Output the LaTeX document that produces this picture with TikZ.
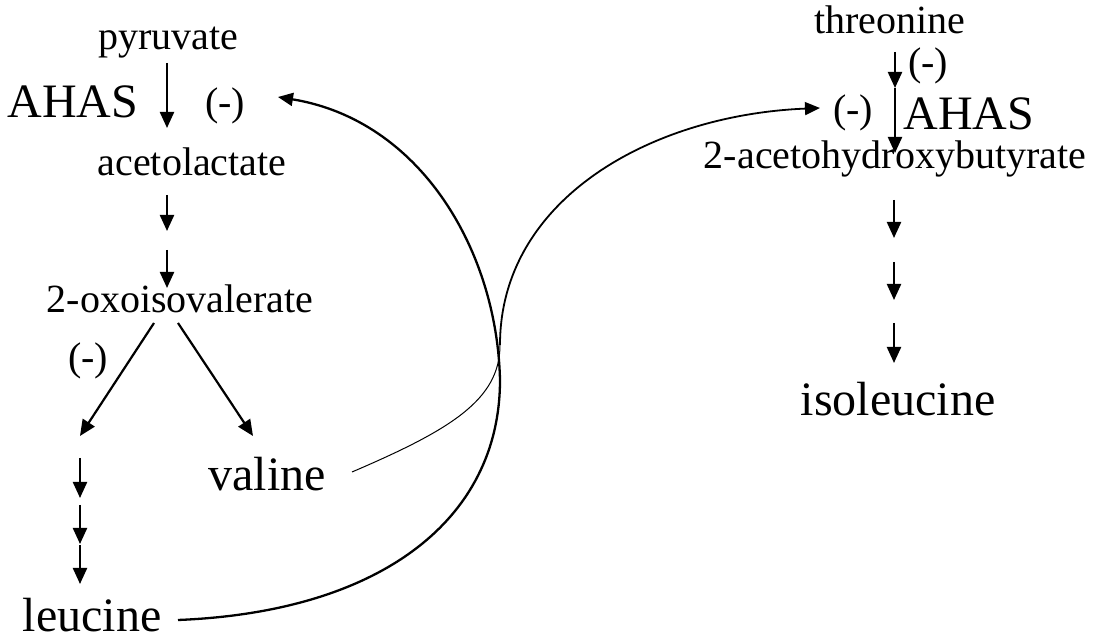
\documentclass[tikz,border=0pt]{standalone}
\usepackage{fontspec}
\setmainfont{Liberation Serif}
\usetikzlibrary{arrows.meta}
\begin{document}
\begin{tikzpicture}[x=0.5pt,y=-0.5pt,
  smalltxt/.style={anchor=base,inner sep=0pt,font=\fontsize{20}{24}\selectfont},
  bigtxt/.style={anchor=base,inner sep=0pt,font=\fontsize{24}{28}\selectfont},
  steparrow/.style={line width=1.1pt,-{Triangle[length=8pt,width=7pt]}},
  feedback/.style={-{Triangle[length=7.5pt,width=6.5pt]}}
]
\useasboundingbox (0,0) rectangle (1100,640);
\fill[white] (0,0) rectangle (1100,640);

% ---- left pathway texts
\node[smalltxt] (pyr) at (168,50) {pyruvate};
\node[bigtxt] (ahasL) at (73,118) {AHAS};
\node[smalltxt] (inhA) at (225,116) {(-)};
\node[smalltxt] (acl) at (192,176) {acetolactate};
\node[smalltxt] (oxo) at (180,313) {2-oxoisovalerate};
\node[smalltxt] (inhB) at (88,371) {(-)};
\node[bigtxt] (val) at (267,491) {valine};
\node[bigtxt] (leu) at (92,632) {leucine};

% ---- right pathway texts
\node[smalltxt] (thr) at (890,34) {threonine};
\node[smalltxt] (inhC) at (928,76) {(-)};
\node[smalltxt] (inhD) at (853,123) {(-)};
\node[bigtxt] (ahasR) at (969,130) {AHAS};
\node[smalltxt] (ahb) at (895,169) {2-acetohydroxybutyrate};
\node[bigtxt] (ile) at (898,416) {isoleucine};

% ---- step arrow end points
\coordinate (a1s) at (167,63);  \coordinate (a1e) at (167,128);
\coordinate (a2s) at (167,195); \coordinate (a2e) at (167,231);
\coordinate (a3s) at (167,250); \coordinate (a3e) at (167,288);
\coordinate (d1s) at (154,323); \coordinate (d1e) at (80,436);
\coordinate (d2s) at (178,323); \coordinate (d2e) at (253,436);
\coordinate (l1s) at (80,458);  \coordinate (l1e) at (80,498);
\coordinate (l2s) at (80,505);  \coordinate (l2e) at (80,544);
\coordinate (l3s) at (80,545);  \coordinate (l3e) at (80,584);
\coordinate (t1s) at (895,52);  \coordinate (t1e) at (895,88);
\coordinate (t2e) at (895,153);
\coordinate (i1s) at (894,200); \coordinate (i1e) at (894,238);
\coordinate (i2s) at (894,262); \coordinate (i2e) at (894,300);
\coordinate (i3s) at (894,323); \coordinate (i3e) at (894,363);

\foreach \s/\e in {a1s/a1e,a2s/a2e,a3s/a3e,d1s/d1e,d2s/d2e,l1s/l1e,l2s/l2e,l3s/l3e,
                   t1s/t1e,t1e/t2e,i1s/i1e,i2s/i2e,i3s/i3e}
  \draw[steparrow] (\s) -- (\e);

% ---- feedback curves
\coordinate (leuout) at (178,620);
\coordinate (leumid) at (500,380);
\coordinate (inhAin) at (278,97);
\coordinate (valout) at (352,472);
\coordinate (valmid) at (500,345);
\coordinate (inhDin) at (820,108);

\draw[line width=1.15pt,feedback] (leuout) .. controls (380,612) and (500,520) .. (leumid)
      .. controls (497,250) and (420,120) .. (inhAin);
\draw[line width=0.5pt] (valout) .. controls (450,430) and (500,400) .. (valmid);
\draw[line width=0.9pt,feedback] (valmid) .. controls (500,200) and (650,115) .. (inhDin);
\end{tikzpicture}
\end{document}
